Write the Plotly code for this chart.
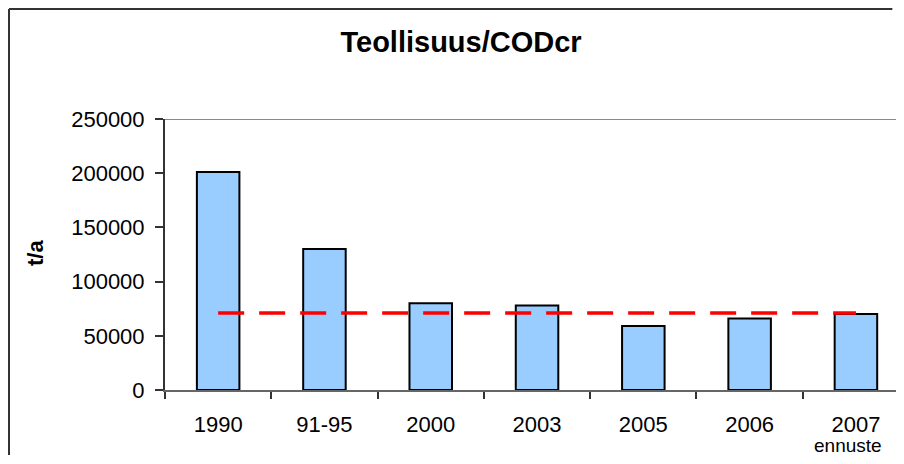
import plotly.graph_objects as go

# values
categories = ["1990", "91-95", "2000", "2003", "2005", "2006", "2007"]
load_t_per_a = [201000, 130000, 80000, 78000, 59000, 66000, 70000]
target_t_per_a = [71000, 71000, 71000, 71000, 71000, 71000, 71000]
y_ticks = [0, 50000, 100000, 150000, 200000, 250000]
boundaries = [-0.5, 0.5, 1.5, 2.5, 3.5, 4.5, 5.5]

FONT = "Liberation Sans, Arial, sans-serif"

fig = go.Figure()

fig.add_trace(go.Bar(
    x=categories,
    y=load_t_per_a,
    width=0.4,
    marker=dict(color="#99CCFF", line=dict(color="black", width=2)),
    showlegend=False,
))

fig.add_trace(go.Scatter(
    x=categories,
    y=target_t_per_a,
    mode="lines",
    line=dict(color="#FF0000", width=3.5, dash="26px,15px"),
    showlegend=False,
))

# page body has an 8px margin; keep the figure inside the window so no scrollbars appear
fig.update_layout(
    width=888,
    height=448,
    margin=dict(l=157, r=0, t=111, b=66),
    paper_bgcolor="white",
    plot_bgcolor="white",
    font=dict(family=FONT, size=22, color="black"),
    title=dict(
        text="<b>Teollisuus/CODcr</b>",
        font=dict(size=29, color="black"),
        x=0.405, xref="paper", xanchor="center",
        y=0.9242, yref="container", yanchor="middle",
    ),
    xaxis=dict(
        type="category",
        range=[-0.5, 6.377],
        tickson="boundaries",
        ticks="outside",
        ticklen=7,
        tickwidth=1.5,
        tickcolor="#333333",
        showline=True,
        linecolor="#666666",
        linewidth=2,
        showgrid=False,
        zeroline=False,
        ticklabelstandoff=14,
        tickfont=dict(size=22),
    ),
    xaxis2=dict(
        overlaying="x",
        anchor="y",
        range=[-0.5, 6.377],
        tickvals=boundaries,
        ticks="inside",
        ticklen=7,
        tickwidth=1.5,
        tickcolor="#333333",
        showticklabels=False,
        showgrid=False,
        zeroline=False,
    ),
    yaxis=dict(
        range=[0, 250000],
        tickvals=y_ticks,
        tickformat="d",
        ticks="outside",
        ticklen=8,
        tickwidth=1.5,
        tickcolor="#333333",
        showline=True,
        linecolor="#333333",
        linewidth=2,
        showgrid=False,
        zeroline=False,
        ticklabelstandoff=6,
        tickfont=dict(size=22),
    ),
    yaxis2=dict(
        overlaying="y",
        anchor="x",
        side="left",
        range=[0, 250000],
        tickvals=y_ticks,
        ticks="inside",
        ticklen=8,
        tickwidth=1.5,
        tickcolor="#333333",
        showticklabels=False,
        showgrid=False,
        zeroline=False,
    ),
)

# top line of the plot area
fig.add_shape(type="line", xref="paper", yref="y", x0=0, x1=1, y0=250000, y1=250000,
              line=dict(color="#888888", width=2))
# outer chart frame: only its left and top edges fall inside the picture
fig.add_shape(type="line", xref="paper", yref="paper", x0=-0.2134, x1=0.995, y0=1.406, y1=1.406,
              line=dict(color="#333333", width=2))
fig.add_shape(type="line", xref="paper", yref="paper", x0=-0.2134, x1=-0.2134, y0=-0.24, y1=1.406,
              line=dict(color="#333333", width=2))

fig.add_annotation(text="<b>t/a</b>", textangle=-90, showarrow=False,
                   xref="paper", yref="paper", x=-0.1778, y=0.5055,
                   xanchor="center", yanchor="middle", font=dict(size=22))
fig.add_annotation(text="ennuste", showarrow=False, xref="x", yref="y",
                   x=categories.index("2007"), y=0, xshift=-8, yshift=-55, yanchor="middle",
                   font=dict(size=19))

fig.write_html("out.html")
